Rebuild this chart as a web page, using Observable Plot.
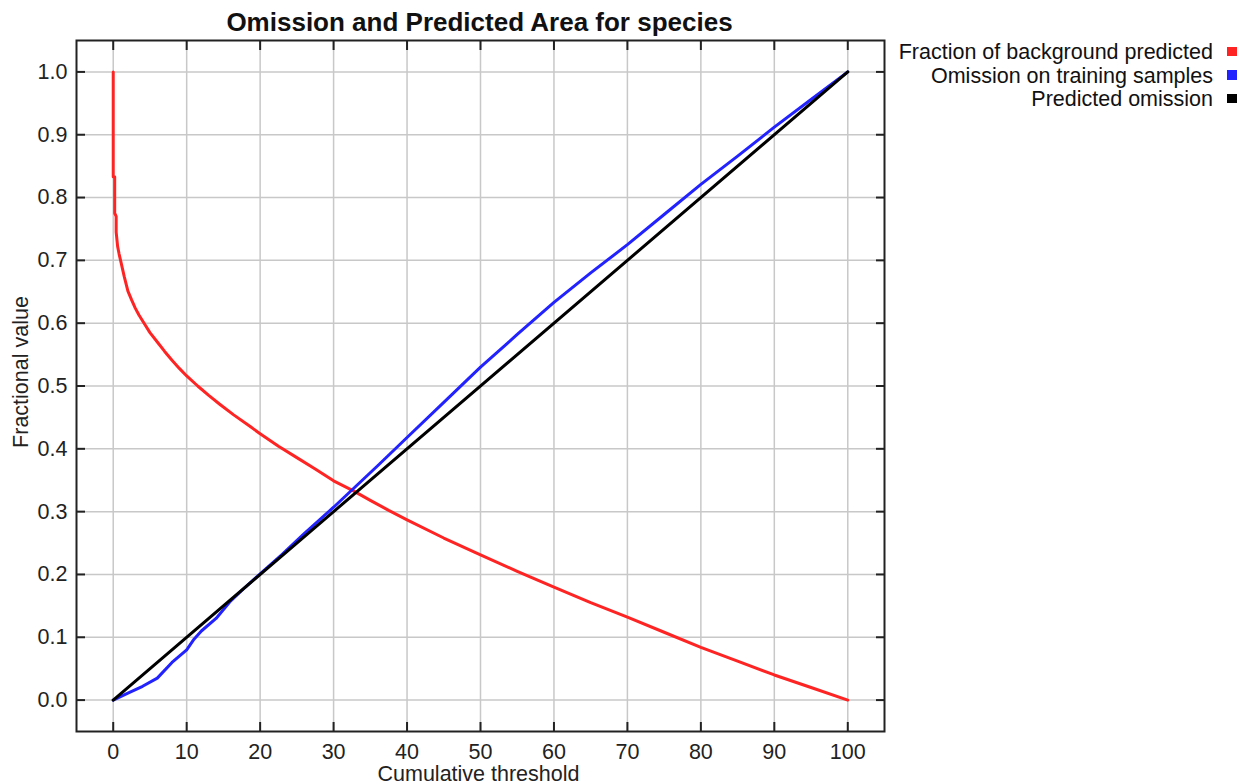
<!DOCTYPE html>
<html><head><meta charset="utf-8">
<script src="https://cdn.jsdelivr.net/npm/d3@7"></script>
<script src="https://cdn.jsdelivr.net/npm/@observablehq/plot@0.6"></script>
<style>
body{margin:0;background:#fff;font-family:"Liberation Sans",Arial,Helvetica,sans-serif;}
#wrap{position:relative;width:1239px;height:784px;overflow:hidden;}
.leg{position:absolute;font-size:21.5px;line-height:23.5px;white-space:nowrap;color:#111;text-align:right;}
.sq{position:absolute;width:10px;height:9.5px;}
</style></head><body><div id="wrap"></div>
<script>
const titleText = "Omission and Predicted Area for species";
const xLabel = "Cumulative threshold";
const yLabel = "Fractional value";
const xTicks = [0, 10, 20, 30, 40, 50, 60, 70, 80, 90, 100];
const yTicks = [0, 0.1, 0.2, 0.3, 0.4, 0.5, 0.6, 0.7, 0.8, 0.9, 1.0];
const seriesNames = ["Fraction of background predicted", "Omission on training samples", "Predicted omission"];
const seriesColors = ["#ff2424", "#2222ff", "#000000"];

// Fraction of background predicted (red)
const bgX = [0, 0, 0.2, 0.2, 0.4, 0.4, 0.6, 0.8, 1.0, 1.5, 2, 2.5, 3, 3.5, 4.2, 5, 6, 7, 8, 9, 10, 11.5, 13, 14.5, 16.4, 18.7, 20, 22.5, 25, 27.5, 30, 32.7, 35, 37.5, 40, 45, 50, 55, 60, 65, 70, 75, 80, 85, 90, 95, 100];
const bgY = [1.0, 0.833, 0.833, 0.775, 0.77, 0.745, 0.722, 0.71, 0.70, 0.674, 0.651, 0.637, 0.624, 0.613, 0.60, 0.585, 0.570, 0.555, 0.541, 0.528, 0.516, 0.5, 0.485, 0.471, 0.454, 0.435, 0.424, 0.404, 0.386, 0.368, 0.349, 0.333, 0.318, 0.302, 0.287, 0.258, 0.231, 0.205, 0.18, 0.155, 0.132, 0.108, 0.084, 0.062, 0.040, 0.02, 0.0];
// Omission on training samples (blue)
const omX = [0, 2, 4, 6, 8, 10, 11, 12, 14, 16, 18, 20, 23, 26, 30, 33, 36, 40, 45, 50, 55, 60, 65, 70, 75, 80, 85, 90, 95, 100];
const omY = [0, 0.011, 0.022, 0.035, 0.06, 0.08, 0.097, 0.11, 0.13, 0.158, 0.18, 0.201, 0.232, 0.265, 0.307, 0.340, 0.373, 0.418, 0.474, 0.530, 0.582, 0.633, 0.68, 0.725, 0.773, 0.821, 0.866, 0.912, 0.956, 1.0];
// Predicted omission (black)
const predX = [0, 100];
const predY = [0, 1];

const toRows = (xs, ys) => xs.map((x, i) => ({x, y: ys[i]}));
const tickStyle = {stroke: "#222", strokeWidth: 2, tickSize: 9, tickFormat: () => "", label: null};
const fontFam = "Liberation Sans, Arial, Helvetica, sans-serif";

const chart = Plot.plot({
  width: 1239, height: 784,
  marginLeft: 76, marginRight: 355, marginTop: 40, marginBottom: 53,
  x: {domain: [-5, 105]},
  y: {domain: [-0.05, 1.05]},
  style: {fontFamily: fontFam, fontSize: "21.5px", color: "#222", background: "#fff", overflow: "visible"},
  marks: [
    Plot.gridX(xTicks, {stroke: "#c8c8c8", strokeOpacity: 1, strokeWidth: 1.5}),
    Plot.gridY(yTicks, {stroke: "#c8c8c8", strokeOpacity: 1, strokeWidth: 1.5}),
    Plot.axisX(xTicks, {anchor: "bottom", dy: -9, ...tickStyle}),
    Plot.axisX(xTicks, {anchor: "top", dy: 9, ...tickStyle}),
    Plot.axisY(yTicks, {anchor: "left", dx: 9, ...tickStyle}),
    Plot.axisY(yTicks, {anchor: "right", dx: -9, ...tickStyle}),
    Plot.axisX(xTicks, {anchor: "bottom", tickSize: 0, tickPadding: 12, fontSize: 21.5, fill: "#222", label: null}),
    Plot.axisY(yTicks, {anchor: "left", tickSize: 0, tickPadding: 9, fontSize: 21.5, fill: "#222", label: null, tickFormat: d => d.toFixed(1)}),
    Plot.line(toRows(bgX, bgY), {x: "x", y: "y", stroke: seriesColors[0], strokeWidth: 3}),
    Plot.line(toRows(omX, omY), {x: "x", y: "y", stroke: seriesColors[1], strokeWidth: 3}),
    Plot.line(toRows(predX, predY), {x: "x", y: "y", stroke: seriesColors[2], strokeWidth: 3}),
    Plot.frame({stroke: "#222", strokeWidth: 2}),
    Plot.text([titleText], {text: d => d, frameAnchor: "top", textAnchor: "middle", lineAnchor: "bottom", dy: -10, dx: -1, fontSize: 26, fontWeight: "bold", fill: "#111"}),
    Plot.text([xLabel], {text: d => d, frameAnchor: "bottom", textAnchor: "middle", lineAnchor: "bottom", dy: 49, dx: -2, fontSize: 21.5, fill: "#222"}),
    Plot.text([yLabel], {text: d => d, frameAnchor: "left", textAnchor: "middle", lineAnchor: "bottom", rotate: -90, dx: -49, dy: -14, fontSize: 21.5, fill: "#222"})
  ]
});
const wrap = document.getElementById("wrap");
chart.style.position = "absolute";
chart.style.left = "0px";
chart.style.top = "0px";
wrap.appendChild(chart);

seriesNames.forEach((name, i) => {
  const t = document.createElement("div");
  t.className = "leg";
  t.textContent = name;
  t.style.right = (1239 - 1213) + "px";
  t.style.top = (41.3 + 23.5 * i) + "px";
  wrap.appendChild(t);
  const s = document.createElement("div");
  s.className = "sq";
  s.style.left = "1227px";
  s.style.top = (46.7 + 23.5 * i) + "px";
  s.style.background = seriesColors[i];
  wrap.appendChild(s);
});
</script>
</body></html>
